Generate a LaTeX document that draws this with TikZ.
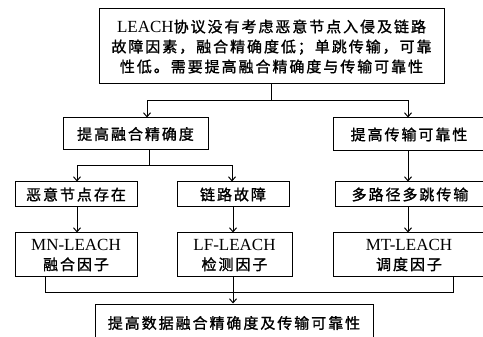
\documentclass[tikz,border=0pt]{standalone}
\usepackage{fontspec}
\setmainfont{Liberation Serif}
\newfontfamily\cjk{Noto Sans CJK SC}[LetterSpace=13,FakeBold=1.2]
\usetikzlibrary{arrows.meta}
\newcommand\lat[1]{{\rmfamily\fontsize{17}{20}\selectfont #1}}
\begin{document}
\begin{tikzpicture}[x=1pt,y=-1pt,line width=1pt,
  box/.style={draw,line width=1pt,inner sep=0pt,align=center,
    font=\cjk\fontsize{15}{20}\selectfont},
  arr/.style={-{Straight Barb[length=4pt,width=7pt]},line width=1pt}]
\useasboundingbox[fill=white] (0,0) rectangle (483,337);
\node[box,minimum width=345pt,minimum height=75pt] (top) at (271.5,46.5)
  {\lat{LEACH}协议没有考虑恶意节点入侵及链路\\故障因素，融合精确度低；单跳传输，可靠\\性低。需要提高融合精确度与传输可靠性};
\node[box,minimum width=145pt,minimum height=32pt] (acc) at (135.5,134) {提高融合精确度};
\node[box,minimum width=152pt,minimum height=33pt] (rel) at (409,134.5) {提高传输可靠性};
\node[box,minimum width=122pt,minimum height=25pt] (mal) at (76,194.5) {恶意节点存在};
\node[box,minimum width=112pt,minimum height=25pt] (lnk) at (233,194.5) {链路故障};
\node[box,minimum width=150pt,minimum height=25pt] (mh) at (410,194.5) {多路径多跳传输};
\node[box,minimum width=122pt,minimum height=44pt] (mn) at (76,255) {\lat{MN-LEACH}\\融合因子};
\node[box,minimum width=115pt,minimum height=44pt] (lf) at (234.5,255) {\lat{LF-LEACH}\\检测因子};
\node[box,minimum width=152pt,minimum height=44pt] (mt) at (409,255) {\lat{MT-LEACH}\\调度因子};
\node[box,minimum width=278pt,minimum height=38pt] (fin) at (234,323) {提高数据融合精确度及传输可靠性};
\draw (top.south) -- ++(0,16) coordinate (j1);
\draw[arr] (j1) -| ([xshift=11.5pt]acc.north);
\draw[arr] (j1) -| ([xshift=-1pt]rel.north);
\draw ([xshift=13.5pt]acc.south) -- ++(0,15) coordinate (j2);
\draw[arr] (j2) -| ([xshift=1pt]mal.north);
\draw[arr] (j2) -| ([xshift=-1pt]lnk.north);
\draw[arr] ([xshift=-1pt]rel.south) -- ([xshift=-2pt]mh.north);
\draw[arr] ([xshift=1pt]mal.south) -- ([xshift=1pt]mn.north);
\draw[arr] (lnk.south) -- (lnk.south |- lf.north);
\draw[arr] ([xshift=-2pt]mh.south) -- ([xshift=-1pt]mt.north);
\draw ([xshift=-31pt]mn.south) -- ++(0,15) -| ([xshift=44pt]mt.south);
\draw[arr] ([xshift=-1pt]lf.south -| fin.north) -- ([xshift=-1pt]fin.north);
\end{tikzpicture}
\end{document}
